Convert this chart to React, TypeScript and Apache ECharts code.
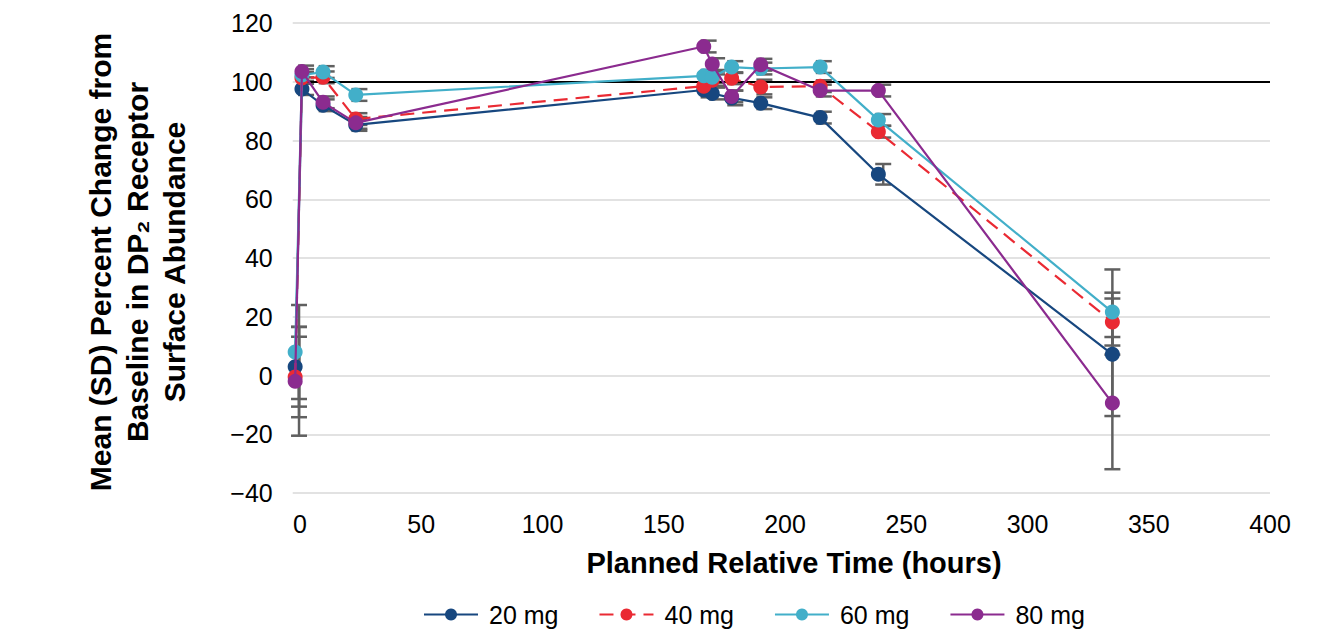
import React, { useEffect, useRef } from "react";
import * as echarts from "echarts";

const times = [-2, 0.8, 9.5, 23, 166.5, 170, 178, 190, 214.5, 238.5, 335];
const errTimes = [-0.4, 2.5, 11, 24.5, 168.5, 172, 179.5, 191.5, 216, 240.5, 335];
const seriesNames = ["20 mg", "40 mg", "60 mg", "80 mg"];
const mean20 = [3, 97.5, 92, 85.3, 97.2, 96, 94.5, 92.7, 87.8, 68.5, 7.2];
const mean40 = [-0.5, 101.3, 101.5, 87.3, 98.5, 100.5, 101.2, 98.2, 98.5, 83, 18.2];
const mean60 = [8, 102.3, 103.3, 95.5, 102, 101.5, 105, 104.5, 105, 87, 21.6];
const mean80 = [-2, 103.5, 93, 86, 112, 106, 95, 105.8, 97, 97, -9.4];
const sd20 = [13.6, 2, 2, 2, 2.5, 2, 2.5, 2, 2, 3.5, 21];
const sd40 = [13.7, 2, 2, 2, 2, 2, 2, 2.5, 2, 2, 8];
const sd60 = [16, 2, 2, 2, 2, 2, 2, 2, 2, 2, 14.5];
const sd80 = [18.5, 2, 2, 2, 2, 2, 2, 2, 2, 2, 22.5];
const referenceLine = 100;
const xTicks = [0, 50, 100, 150, 200, 250, 300, 350, 400];
const yTicks = [-40, -20, 0, 20, 40, 60, 80, 100, 120];

const colors = ["#17477f", "#ea2a33", "#42afc9", "#8b2b8f"];
const FONT = '"Liberation Sans", Arial, Helvetica, sans-serif';

const X_MIN = -3;
const PX_PER_UNIT = 970 / 400;

export default function App() {
  const ref = useRef<HTMLDivElement>(null);
  useEffect(() => {
    if (!ref.current) return;
    const chart = echarts.init(ref.current, undefined, { renderer: "svg" });
    const means = [mean20, mean40, mean60, mean80];
    const sds = [sd20, sd40, sd60, sd80];
    const errData: number[][] = [];
    means.forEach((m, si) => {
      m.forEach((v, i) => {
        errData.push([errTimes[i], v, sds[si][i]]);
      });
    });
    const lineSeries = means.map((m, si) => ({
      name: seriesNames[si],
      type: "line",
      data: m.map((v, i) => [times[i], v]),
      symbol: "circle",
      symbolSize: 15,
      showSymbol: true,
      clip: false,
      z: 10 + si,
      itemStyle: { color: colors[si] },
      lineStyle: {
        color: colors[si],
        width: 2.2,
        type: si === 1 ? [14, 8] : "solid",
      },
      markLine:
        si === 0
          ? {
              silent: true,
              symbol: "none",
              label: { show: false },
              lineStyle: { color: "#000", width: 2, type: "solid" },
              data: [[{ coord: [0, referenceLine] }, { coord: [400, referenceLine] }]],
            }
          : undefined,
    }));
    const gridLeft = 300 + X_MIN * PX_PER_UNIT;
    const option: any = {
      animation: false,
      backgroundColor: "#fff",
      textStyle: { fontFamily: FONT },
      grid: { left: gridLeft, right: 72, top: 23, bottom: 141, containLabel: false },
      xAxis: {
        type: "value",
        min: X_MIN,
        max: xTicks[xTicks.length - 1],
        axisLine: { show: false },
        axisTick: { show: false, customValues: xTicks },
        splitLine: { show: false },
        axisLabel: {
          color: "#000",
          fontSize: 25,
          fontFamily: FONT,
          margin: 18,
          customValues: xTicks,
        },
      },
      yAxis: {
        type: "value",
        min: yTicks[0],
        max: yTicks[yTicks.length - 1],
        interval: 20,
        axisLine: { show: false },
        axisTick: { show: false },
        splitLine: { show: true, lineStyle: { color: "#d9d9d9", width: 1.5 } },
        axisLabel: {
          color: "#000",
          fontSize: 25,
          fontFamily: FONT,
          margin: 20,
          formatter: (v: number) => (v < 0 ? "\u2212" + Math.abs(v) : String(v)),
        },
      },
      legend: {
        data: seriesNames,
        left: 418,
        top: 597,
        itemWidth: 54,
        itemHeight: 15,
        itemGap: 40,
        textStyle: { color: "#000", fontSize: 25, fontFamily: FONT, padding: [0, 0, 0, 6] },
      },
      graphic: [
        {
          type: "text",
          x: 137,
          y: 262,
          rotation: Math.PI / 2,
          style: {
            text: "Mean (SD) Percent Change from\nBaseline in DP\u2082 Receptor\nSurface Abundance",
            fontSize: 30,
            fontWeight: "bold",
            fontFamily: FONT,
            fill: "#000",
            align: "center",
            verticalAlign: "middle",
            lineHeight: 37,
          },
        },
        {
          type: "text",
          x: 794,
          y: 563,
          style: {
            text: "Planned Relative Time (hours)",
            fontSize: 29,
            fontWeight: "bold",
            fontFamily: FONT,
            fill: "#000",
            align: "center",
            verticalAlign: "middle",
          },
        },
      ],
      series: [
        {
          type: "custom",
          name: "errorbars",
          clip: false,
          z: 1,
          silent: true,
          data: errData,
          encode: { x: 0, y: 1 },
          renderItem: (params: any, api: any) => {
            const x = api.value(0);
            const y = api.value(1);
            const sd = api.value(2);
            const top = api.coord([x, y + sd]);
            const bot = api.coord([x, y - sd]);
            const hw = 8;
            const style = { stroke: "#606060", lineWidth: 2.5 };
            return {
              type: "group",
              children: [
                { type: "line", shape: { x1: top[0], y1: top[1], x2: bot[0], y2: bot[1] }, style },
                { type: "line", shape: { x1: top[0] - hw, y1: top[1], x2: top[0] + hw, y2: top[1] }, style },
                { type: "line", shape: { x1: bot[0] - hw, y1: bot[1], x2: bot[0] + hw, y2: bot[1] }, style },
              ],
            };
          },
        },
        ...lineSeries,
      ],
    };
    chart.setOption(option);
    return () => chart.dispose();
  }, []);
  return (
    <div
      ref={ref}
      style={{ position: "fixed", left: 0, top: 0, width: 1342, height: 634, background: "#fff" }}
    />
  );
}
